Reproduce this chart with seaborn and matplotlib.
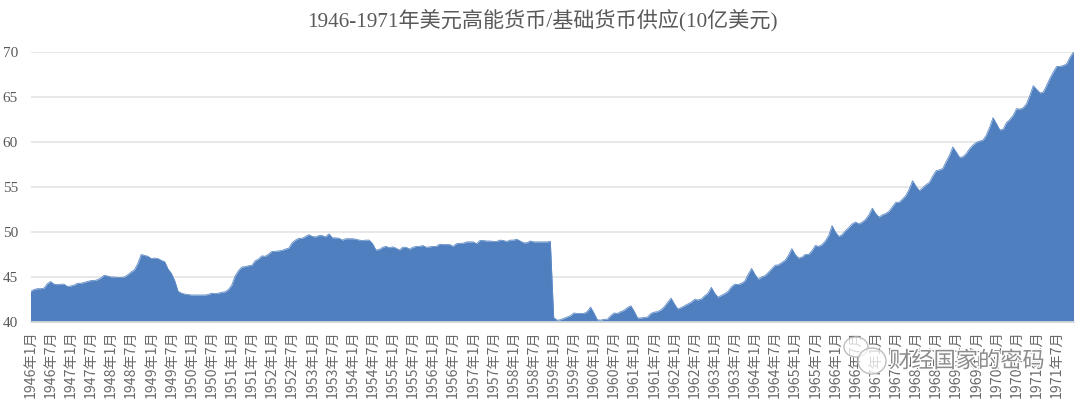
import matplotlib
matplotlib.use("Agg")
import matplotlib.pyplot as plt
import matplotlib.patheffects as pe
from matplotlib.patches import Ellipse
import pandas as pd
import seaborn as sns

TITLE = "1946-1971年美元高能货币/基础货币供应(10亿美元)"
y1946 = [43.4,43.6,43.7,43.7,43.75,44.25,44.5,44.2,44.15,44.2,44.2,43.95]
y1947 = [44.0,44.1,44.3,44.3,44.4,44.5,44.6,44.6,44.7,44.9,45.2,45.1]
y1948 = [45.0,45.0,44.95,44.95,45.0,45.25,45.55,45.8,46.5,47.5,47.4,47.3]
y1949 = [47.05,47.1,47.05,46.85,46.7,45.9,45.4,44.6,43.4,43.2,43.1,43.05]
y1950 = [43.0,43.0,43.0,43.0,43.0,43.05,43.2,43.15,43.2,43.3,43.35,43.6]
y1951 = [44.1,45.1,45.7,46.1,46.15,46.25,46.3,46.8,47.0,47.35,47.3,47.55]
y1952 = [47.85,47.85,47.9,47.95,48.1,48.2,48.8,49.1,49.3,49.3,49.5,49.7]
y1953 = [49.5,49.45,49.6,49.6,49.45,49.8,49.35,49.35,49.3,49.1,49.25,49.25]
y1954 = [49.25,49.2,49.1,49.05,49.1,49.1,48.7,48.0,48.05,48.3,48.4,48.25]
y1955 = [48.35,48.2,48.0,48.3,48.3,48.1,48.3,48.4,48.4,48.5,48.3,48.35]
y1956 = [48.4,48.4,48.65,48.6,48.6,48.6,48.4,48.7,48.75,48.75,48.9,48.9]
y1957 = [48.9,48.7,49.05,49.05,49.0,49.0,48.95,48.95,49.1,49.05,48.95,49.1]
y1958 = [49.1,49.2,49.0,48.8,48.8,49.0,48.9,48.9,48.9,48.9,48.9,48.95]
y1959 = [40.5,40.2,40.25,40.4,40.55,40.7,41.0,40.95,40.95,40.95,41.15,41.65]
y1960 = [41.0,40.25,40.2,40.3,40.3,40.7,41.0,40.95,41.15,41.3,41.6,41.8]
y1961 = [41.2,40.45,40.45,40.5,40.55,40.95,41.1,41.15,41.35,41.7,42.2,42.65]
y1962 = [42.0,41.45,41.6,41.8,42.0,42.2,42.5,42.45,42.55,42.9,43.2,43.85]
y1963 = [43.2,42.75,42.95,43.15,43.4,43.9,44.2,44.15,44.3,44.55,45.3,45.95]
y1964 = [45.3,44.75,45.0,45.15,45.5,45.9,46.3,46.35,46.6,46.85,47.4,48.15]
y1965 = [47.5,47.1,47.2,47.5,47.5,47.9,48.5,48.4,48.6,49.0,49.6,50.7]
y1966 = [50.0,49.5,49.7,50.15,50.5,50.9,51.1,50.9,51.1,51.4,51.9,52.65]
y1967 = [52.05,51.65,51.9,52.05,52.3,52.8,53.3,53.3,53.65,54.05,54.75,55.7]
y1968 = [55.1,54.6,54.9,55.25,55.5,56.2,56.8,56.9,57.05,57.8,58.5,59.45]
y1969 = [58.9,58.3,58.35,58.7,59.25,59.65,59.95,60.1,60.2,60.75,61.65,62.7]
y1970 = [62.05,61.35,61.4,62.15,62.5,62.95,63.7,63.65,63.8,64.25,65.2,66.25]
y1971 = [65.85,65.45,65.55,66.3,67.1,67.8,68.4,68.4,68.5,68.7,69.45,70.0]
years = list(range(1946, 1972))
series = [y1946,y1947,y1948,y1949,y1950,y1951,y1952,y1953,y1954,y1955,y1956,y1957,y1958,
          y1959,y1960,y1961,y1962,y1963,y1964,y1965,y1966,y1967,y1968,y1969,y1970,y1971]
values = [v for s in series for v in s]
labels = [f"{y}年{m}月" for y, s in zip(years, series) for m in range(1, len(s) + 1)]
df = pd.DataFrame({"month": range(len(values)), "supply": values})

sns.set_theme(style="white")
plt.rcParams["font.family"] = ["Liberation Serif", "Noto Sans CJK SC", "DejaVu Sans"]
BLUE = "#4f7fbe"
GREY = "#595959"
fig = plt.figure(figsize=(10.8, 4.05), dpi=100, facecolor="white")
ax = fig.add_axes([30.5/1080, 1-322/405, (1073.5-30.5)/1080, (322-52)/405])
ax.fill_between(df["month"], 40, df["supply"], color=BLUE, lw=0, zorder=2)
sns.lineplot(data=df, x="month", y="supply", ax=ax, color="#5e8bc6", lw=0.6, zorder=3)
ax.set_xlim(0, len(values) - 1)
ax.set_ylim(40, 70)
ax.set_xlabel(""); ax.set_ylabel("")
ax.set_yticks(range(40, 71, 5))
ax.grid(axis="y", color="#e4e4e4", lw=1.2, zorder=0)
ax.set_axisbelow(True)
for s in ["top", "left", "right"]:
    ax.spines[s].set_visible(False)
ax.spines["bottom"].set_color("#dddddd")
ax.tick_params(axis="y", length=0, labelsize=11, labelcolor=GREY, pad=9)
ticks = list(range(0, len(values), 6))
ax.set_xticks(ticks)
ax.set_xticklabels([labels[i] for i in ticks], rotation=90, fontsize=10.2, color="#6a6a6a",
                   family=["Noto Sans CJK SC", "DejaVu Sans"], fontweight="light")
ax.tick_params(axis="x", length=4, width=0.8, color="#dddddd", pad=2)
fig.text(542/1080, 1-20/405, TITLE, ha="center", va="center", fontsize=15.2, color=GREY)

# faint watermark over the bottom-right labels
fig.text(967/1080, 1-361/405, "财经国家的密码", ha="center", va="center", fontsize=16,
         color="#8c8c8c", family=["Noto Sans CJK SC"], fontweight="light",
         path_effects=[pe.withStroke(linewidth=2, foreground="white")])
for cx, cy, w, h in [(856, 347, 24, 20), (872, 361, 28, 26)]:
    fig.patches.append(Ellipse((cx/1080, 1-cy/405), w/1080, h/405, transform=fig.transFigure,
                               fc=(1, 1, 1, 0.75), ec="#bdbdbd", lw=1))
fig.savefig("out.png", dpi=100, facecolor="white")
